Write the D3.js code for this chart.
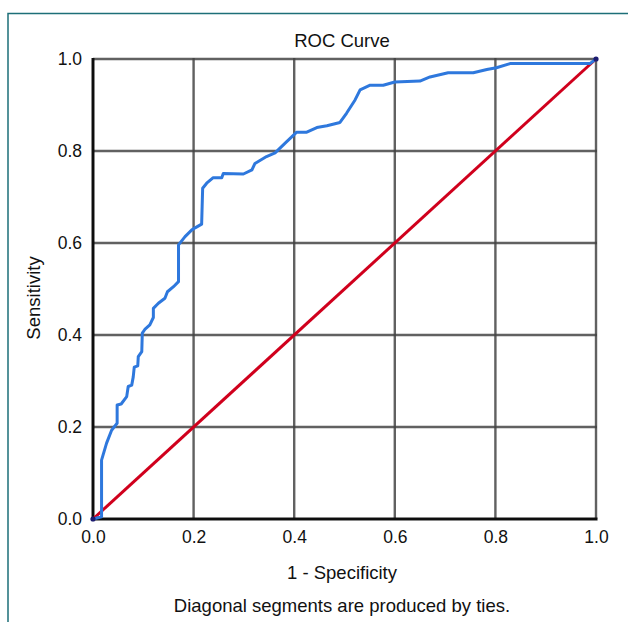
<!DOCTYPE html>
<html><head><meta charset="utf-8">
<script src="https://cdn.jsdelivr.net/npm/d3@7/dist/d3.min.js"></script>
<style>body{margin:0;background:#fff}svg{display:block}</style>
</head><body>
<script>
const fpr = [0,0.017,0.017,0.027,0.037,0.042,0.048,0.048,0.056,0.067,0.070,0.077,0.080,0.082,0.089,0.090,0.097,0.098,0.103,0.113,0.120,0.120,0.130,0.143,0.148,0.160,0.170,0.170,0.183,0.196,0.203,0.216,0.218,0.226,0.239,0.256,0.259,0.299,0.316,0.322,0.345,0.362,0.382,0.405,0.425,0.445,0.465,0.491,0.504,0.521,0.531,0.551,0.577,0.600,0.650,0.670,0.706,0.756,0.783,0.802,0.829,0.988,1.0];
const tpr = [0,0.005,0.128,0.165,0.193,0.200,0.208,0.248,0.250,0.266,0.288,0.291,0.309,0.330,0.333,0.353,0.364,0.404,0.412,0.422,0.438,0.458,0.469,0.480,0.494,0.505,0.516,0.596,0.614,0.628,0.633,0.641,0.719,0.730,0.742,0.742,0.751,0.750,0.759,0.773,0.788,0.796,0.817,0.841,0.841,0.851,0.855,0.862,0.882,0.911,0.933,0.943,0.943,0.950,0.952,0.961,0.970,0.970,0.977,0.981,0.990,0.990,1.0];
const refLine = [0,1];
const ticks = [0,0.2,0.4,0.6,0.8,1.0];
const title = "ROC Curve";
const xLabel = "1 - Specificity";
const yLabel = "Sensitivity";
const footnote = "Diagonal segments are produced by ties.";

const W=628,H=622;
const svg=d3.select("body").append("svg").attr("width",W).attr("height",H);
svg.append("rect").attr("width",W).attr("height",H).attr("fill","#fff");
const defs=svg.append("defs");
defs.append("filter").attr("id","soft").attr("x","-5%").attr("y","-5%").attr("width","110%").attr("height","110%")
 .append("feGaussianBlur").attr("stdDeviation",0.45);
// frame
svg.append("path").attr("d",`M8,${H+2}V13.5H${W+2}`).attr("fill","none").attr("stroke","#1d6f78").attr("stroke-width",1.5);

const x=d3.scaleLinear().domain([0,1]).range([93,596]);
const y=d3.scaleLinear().domain([0,1]).range([519,59]);
const font="'Liberation Sans', Arial, sans-serif";

const g=svg.append("g").attr("filter","url(#soft)");
// grid
g.selectAll(".vg").data(ticks.slice(1)).join("line")
 .attr("x1",d=>x(d)).attr("x2",d=>x(d)).attr("y1",y(0)).attr("y2",y(1)-1)
 .attr("stroke","#444").attr("stroke-opacity",0.85).attr("stroke-width",2.4);
g.selectAll(".hg").data(ticks.slice(1)).join("line")
 .attr("y1",d=>y(d)).attr("y2",d=>y(d)).attr("x1",x(0)).attr("x2",x(1)+1)
 .attr("stroke","#444").attr("stroke-opacity",0.85).attr("stroke-width",2.4);

// axes via d3 axis (tick labels only)
const xa=svg.append("g").attr("transform",`translate(0,${y(0)})`)
 .call(d3.axisBottom(x).tickValues(ticks).tickFormat(d3.format(".1f")).tickSize(0).tickPadding(12));
const ya=svg.append("g").attr("transform",`translate(${x(0)},0)`)
 .call(d3.axisLeft(y).tickValues(ticks).tickFormat(d3.format(".1f")).tickSize(0).tickPadding(11));
[xa,ya].forEach(a=>{a.select(".domain").remove();a.selectAll("text").attr("font-family",font).attr("font-size",17.5).attr("fill","#111");});

// axis lines
g.append("line").attr("x1",x(0)).attr("x2",x(0)).attr("y1",y(0)+1.5).attr("y2",y(1)-1).attr("stroke","#111").attr("stroke-width",3);
g.append("line").attr("x1",x(0)-1.5).attr("x2",x(1)+1.5).attr("y1",y(0)).attr("y2",y(0)).attr("stroke","#111").attr("stroke-width",3);

// reference line
g.append("line").attr("x1",x(refLine[0])).attr("y1",y(refLine[0])).attr("x2",x(refLine[1])).attr("y2",y(refLine[1]))
 .attr("stroke","#d0021f").attr("stroke-width",3);
// ROC
const line=d3.line().x((d,i)=>x(fpr[i])).y((d,i)=>y(tpr[i]));
g.append("path").datum(fpr).attr("d",line).attr("fill","none").attr("stroke","#2f78dd").attr("stroke-width",3).attr("stroke-linejoin","round");
// end markers
g.selectAll(".ep").data([0,1]).join("circle").attr("cx",d=>x(d)).attr("cy",d=>y(d)).attr("r",2.6).attr("fill","#1a1a70");

const lab=(t,xx,yy,fs)=>svg.append("text").attr("x",xx).attr("y",yy).attr("text-anchor","middle").attr("font-family",font).attr("font-size",fs).attr("fill","#111").text(t);
lab(title,342,47,18.5);
lab(xLabel,342,579,18.5);
lab(footnote,342,612,18.5);
svg.append("text").attr("transform","translate(40,298) rotate(-90)").attr("text-anchor","middle").attr("font-family",font).attr("font-size",18.5).attr("fill","#111").text(yLabel);
</script>
</body></html>
